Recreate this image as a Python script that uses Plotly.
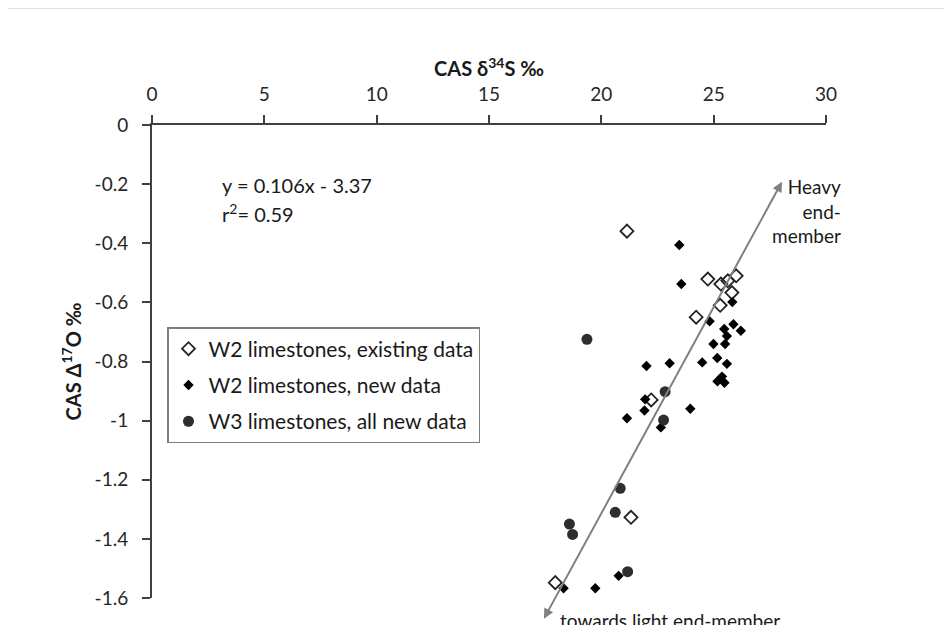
import plotly.graph_objects as go

# W2 limestones, existing data (open diamonds)
w2_old_x = [21.14, 24.74, 25.32, 25.63, 26.00, 25.81, 25.29, 24.22, 22.22, 21.32, 17.95]
w2_old_y = [-0.359, -0.521, -0.538, -0.527, -0.510, -0.567, -0.610, -0.650, -0.930, -1.327, -1.548]

# W2 limestones, new data (filled diamonds)
w2_new_x = [23.47, 23.56, 25.83, 24.82, 25.88, 26.21, 25.47, 25.59, 24.99, 25.51,
            22.01, 23.04, 24.49, 25.16, 25.59, 25.37, 25.17, 25.48, 21.95, 21.92,
            23.96, 21.14, 22.65, 20.77, 19.73, 18.32]
w2_new_y = [-0.406, -0.538, -0.599, -0.664, -0.674, -0.696, -0.690, -0.714, -0.741, -0.741,
            -0.815, -0.806, -0.803, -0.788, -0.808, -0.851, -0.867, -0.872, -0.928, -0.966,
            -0.960, -0.992, -1.023, -1.525, -1.567, -1.567]

# W3 limestones, all new data (filled circles)
w3_x = [19.36, 22.84, 22.77, 20.84, 20.62, 18.58, 18.72, 21.17]
w3_y = [-0.725, -0.902, -0.998, -1.229, -1.310, -1.350, -1.385, -1.511]

x_ticks = [0, 5, 10, 15, 20, 25, 30]
y_ticks = [0, -0.2, -0.4, -0.6, -0.8, -1, -1.2, -1.4, -1.6]
y_tick_text = ["0", "-0.2", "-0.4", "-0.6", "-0.8", "-1", "-1.2", "-1.4", "-1.6"]

FONT = "Lato"
AX = "#404040"

# plot area in page pixels (page body has an 8px offset)
PL, PT, PW, PH = 152, 125, 674, 473


def px_x(p):
    return (p - PL) / PW


def px_y(p):
    return (PT + PH - p) / PH


fig = go.Figure()
fig.add_trace(go.Scatter(
    x=w2_old_x, y=w2_old_y, mode="markers", name="W2 limestones, existing data",
    legendgroup="a",
    marker=dict(symbol="diamond-open", size=10, color="#222222", line=dict(width=1.8, color="#222222"))))
fig.add_trace(go.Scatter(
    x=w2_new_x, y=w2_new_y, mode="markers", name="W2 limestones, new data",
    legendgroup="b",
    marker=dict(symbol="diamond", size=8, color="#000000")))
fig.add_trace(go.Scatter(
    x=w3_x, y=w3_y, mode="markers", name="W3 limestones, all new data",
    legendgroup="c",
    marker=dict(symbol="circle", size=11, color="#2e2e2e")))

annotations = [
    dict(x=28.04, y=-0.192, ax=17.41, ay=-1.675, xref="x", yref="y", axref="x", ayref="y",
         text="", showarrow=True, arrowhead=2, startarrowhead=2, arrowside="end+start",
         arrowsize=1, arrowwidth=2, arrowcolor="#808080"),
    dict(x=px_x(220), y=px_y(185), xref="paper", yref="paper", text="y = 0.106x - 3.37",
         showarrow=False, xanchor="left", yanchor="middle",
         font=dict(family=FONT, size=20, color="#1a1a1a")),
    dict(x=px_x(220), y=px_y(213), xref="paper", yref="paper", text="r<sup>2</sup>= 0.59",
         showarrow=False, xanchor="left", yanchor="middle",
         font=dict(family=FONT, size=20, color="#1a1a1a")),
    dict(x=px_x(843), y=px_y(173), xref="paper", yref="paper", text="Heavy<br>end-<br>member",
         showarrow=False, xanchor="right", yanchor="top", align="right",
         font=dict(family=FONT, size=19, color="#1a1a1a")),
    dict(x=px_x(558), y=px_y(620), xref="paper", yref="paper", text="towards light end-member",
         showarrow=False, xanchor="left", yanchor="middle",
         font=dict(family=FONT, size=19, color="#1a1a1a")),
]

fig.update_layout(
    width=952, height=625,
    margin=dict(l=PL - 8, r=952 - PL - PW + 8, t=PT - 8, b=625 - PT - PH + 8),
    paper_bgcolor="white", plot_bgcolor="white",
    font=dict(family=FONT, size=19, color="#262626"),
    showlegend=True,
    legend=dict(x=px_x(167), y=px_y(327), xanchor="left", yanchor="top",
                bordercolor="#7f7f7f", borderwidth=1.5, bgcolor="white",
                tracegroupgap=6, traceorder="grouped",
                font=dict(family=FONT, size=21, color="#1a1a1a")),
    annotations=annotations,
    shapes=[
        dict(type="line", xref="paper", yref="paper", x0=px_x(0), x1=px_x(948),
             y0=px_y(8), y1=px_y(8), line=dict(color="#c8c8c8", width=1)),
        dict(type="line", xref="paper", yref="paper", x0=px_x(948), x1=px_x(948),
             y0=px_y(8), y1=px_y(640), line=dict(color="#c8c8c8", width=1)),
    ],
)

fig.update_xaxes(
    side="top", range=[0, 30], tickvals=x_ticks, ticktext=[str(v) for v in x_ticks],
    showgrid=False, zeroline=False, showline=True, linecolor=AX, linewidth=2,
    ticks="outside", ticklen=8, tickwidth=2, tickcolor=AX, ticklabelstandoff=6,
    tickfont=dict(family=FONT, size=19, color="#262626"),
    title=dict(text="<b>CAS δ<sup>34</sup>S ‰</b>", standoff=0,
               font=dict(family=FONT, size=20, color="#1a1a1a")),
)
fig.update_yaxes(
    range=[-1.6, 0], tickvals=y_ticks, ticktext=y_tick_text,
    showgrid=False, zeroline=False, showline=True, linecolor=AX, linewidth=2,
    ticks="outside", ticklen=8, tickwidth=2, tickcolor=AX,
    tickfont=dict(family=FONT, size=19, color="#262626"), ticklabelstandoff=10,
    title=dict(text="<b>CAS Δ<sup>17</sup>O ‰</b>", standoff=8,
               font=dict(family=FONT, size=20, color="#1a1a1a")),
)

fig.write_html("out.html")
